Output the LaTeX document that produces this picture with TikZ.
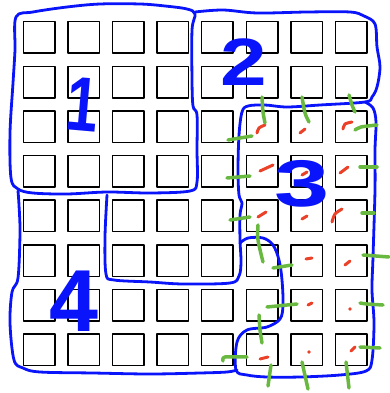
\documentclass[tikz,border=0pt]{standalone}
\usepackage{fontspec}
\setmainfont{Liberation Sans}
\definecolor{pen}{RGB}{10,20,250}
\definecolor{redmark}{RGB}{235,65,40}
\definecolor{greenmark}{RGB}{105,185,65}
\begin{document}
\begin{tikzpicture}[x=1pt,y=-1pt,line join=round,line cap=round,
  sq/.style={draw=black,line width=1.5pt,minimum size=31.5pt,inner sep=0pt,outer sep=0pt},
  border/.style={draw=pen,line width=2.8pt},
  redtick/.style={draw=redmark,line width=3pt},
  greentick/.style={draw=greenmark,line width=3.5pt},
  digit/.style={text=pen,font=\bfseries,inner sep=0pt}]
\useasboundingbox (0,0) rectangle (390,393);
% grid of squares
\foreach \r in {0,...,7}
  \foreach \c in {0,...,7}
    \node[sq] (s\r\c) at ({39+44.6*\c},{37.5+44.6*\r}) {};
% region 1
\draw[border] plot[smooth cycle,tension=0.55] coordinates {
  (16,17) (33,12) (67,7) (100,4) (140,4) (165,6) (187,9) (195,14)
  (192,30) (192,80) (193,106) (197,115) (197,150) (197,182) (190,191)
  (150,193) (107,192) (67,194) (33,193) (18,189) (11,178) (10,133)
  (13,83) (15,50)};
% region 2 (outer boundary)
\draw[border] plot[smooth,tension=0.55] coordinates {
  (195,12) (223,10) (257,13) (307,12) (350,12) (364,16) (375,24)
  (377,47) (380,67) (377,87) (372,97) (365,102) (320,105) (287,107)
  (265,105) (248,106) (242,112) (239,135) (238,170) (239,195) (242,203)
  (240,215) (240,240) (241,262) (239,276) (230,283) (183,284) (150,282)
  (114,280) (106,274) (105,237) (107,195)};
% region 3
\draw[border] plot[smooth,tension=0.55] coordinates {
  (365,102) (373,108) (376,122) (375,150) (375,190) (373,257) (372,290)
  (374,323) (372,360) (366,371) (340,375) (300,377) (267,377) (247,375)
  (236,370) (237,342) (247,330) (267,327) (280,319) (283,305) (282,280)
  (279,260) (273,245) (263,238) (248,238) (240,243)};
% region 4
\draw[border] plot[smooth,tension=0.55] coordinates {
  (18,191) (19,205) (20,233) (18,278) (12,292) (10,323) (14,360)
  (23,368) (40,372) (93,373) (150,374) (200,373) (227,372) (237,370)};
% labels
\node[digit,rotate=-5] (n1) at (82.5,104.5) {\fontsize{77}{77}\selectfont\scalebox{0.75}[1]{1}};
\node[digit] (n2) at (244,62) {\fontsize{67}{67}\selectfont\scalebox{1.25}[1]{2}};
\node[digit] (n3) at (302.5,183.5) {\fontsize{66}{66}\selectfont\scalebox{1.5}[1]{3}};
\node[digit] (n4) at (73.5,301.5) {\fontsize{88}{88}\selectfont 4};
% red marks
\draw[redtick] plot[smooth] coordinates {(257,133) (259,128) (265,125)};
\draw[redtick] (300,133) -- (305,129);
\draw[redtick] plot[smooth] coordinates {(343,129) (345,124) (352,122)};
\draw[redtick] (260,171) -- (273,165);
\draw[redtick] (302,175) -- (307,172);
\draw[redtick] (340,173) -- (348,167);
\draw[redtick] (258,217) -- (266,212);
\draw[redtick] (302,219) -- (307,216);
\draw[redtick] plot[smooth] coordinates {(332,222) (335,214) (342,209)};
\draw[redtick] (306,259) -- (312,258);
\draw[redtick] (345,265) -- (350,261);
\draw[redtick] (308,305) -- (312,303);
\fill[redmark] (350,309) circle (1.8pt);
\draw[redtick] (260,359) -- (268,357);
\fill[redmark] (309,352) circle (1.8pt);
\draw[redtick] (351,351) -- (355,347);
% green marks
\draw[greentick] plot[smooth] coordinates {(262,97) (263,112) (265,123)};
\draw[greentick] plot[smooth] coordinates {(302,97) (305,113) (309,122)};
\draw[greentick] plot[smooth] coordinates {(349,95) (352,105) (355,112)};
\draw[greentick] (228,140) -- (252,136);
\draw[greentick] plot[smooth] coordinates {(355,130) (361,127) (377,125)};
\draw[greentick] (227,178) -- (250,176);
\draw[greentick] (360,167) -- (377,167);
\draw[greentick] (230,220) -- (250,217);
\draw[greentick] (362,213) -- (374,213);
\draw[greentick] plot[smooth] coordinates {(258,225) (258,240) (263,262)};
\draw[greentick] (273,268) -- (292,265);
\draw[greentick] (363,255) -- (389,257);
\draw[greentick] (267,307) -- (297,304);
\draw[greentick] plot[smooth] coordinates {(360,303) (367,304) (383,305)};
\draw[greentick] plot[smooth] coordinates {(259,315) (260,330) (262,343)};
\draw[greentick] plot[smooth] coordinates {(223,361) (225,357) (247,357)};
\draw[greentick] (360,347) -- (380,348);
\draw[greentick] (271,365) -- (268,386);
\draw[greentick] (302,362) -- (308,389);
\draw[greentick] (346,362) -- (349,388);
\end{tikzpicture}
\end{document}
